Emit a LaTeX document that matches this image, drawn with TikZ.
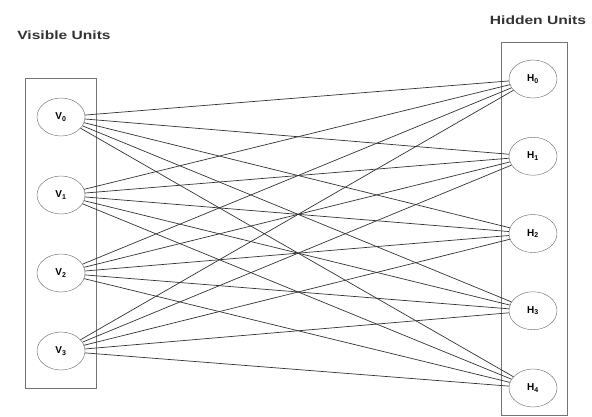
\documentclass[tikz,border=0pt]{standalone}
\usepackage{fontspec}
\setmainfont{Liberation Sans}
\usetikzlibrary{shapes.geometric}

\begin{document}
\begin{tikzpicture}
[
	x=1pt,y=-1pt,
	unit/.style={ellipse,draw=black!60,minimum width=48pt,minimum height=38pt,inner sep=0pt,font=\fontsize{10}{11}\selectfont\bfseries},
	layerbox/.style={draw=black!55},
	title/.style={font=\fontsize{12}{14}\selectfont\bfseries,text=black!80,xscale=1.3,transform shape},
	link/.style={black!80,line width=0.7pt}
]

	\useasboundingbox (0,0) rectangle (592,416);

	% layer boxes
	\draw[layerbox] (25,78) rectangle (96,388);
	\draw[layerbox] (501,42) rectangle (567,415);

	% titles
	\node[title] (vtitle) at (64,35) {Visible Units};
	\node[title] (htitle) at (538,20) {Hidden Units};

	% visible units
	\foreach \i in {0,...,3}
		\node[unit] (v\i) at (61,117+78*\i) {V\textsubscript{\i}};

	% hidden units
	\foreach \j in {0,...,4}
		\node[unit] (h\j) at (533,79+77.25*\j) {H\textsubscript{\j}};

	% connections
	\foreach \i in {0,...,3}
		\foreach \j in {0,...,4}
			\draw[link] (v\i) -- (h\j);

\end{tikzpicture}
\end{document}
